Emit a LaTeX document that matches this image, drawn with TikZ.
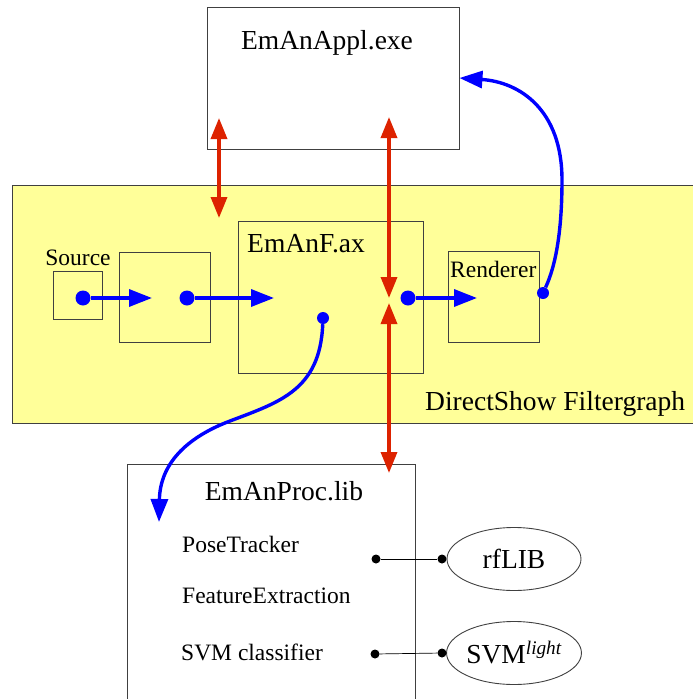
\documentclass[tikz,border=0pt]{standalone}
\usepackage{fontspec}
\setmainfont{Liberation Serif}
\usetikzlibrary{positioning, arrows.meta, shapes.geometric, calc}
\definecolor{paneyellow}{HTML}{FFFF99}
\definecolor{edge}{HTML}{404040}
\definecolor{ctrl}{HTML}{DD2200}
\definecolor{media}{HTML}{0000FF}
\newcommand{\bigtxt}{\fontsize{27.5}{30}\selectfont}
\newcommand{\smalltxt}{\fontsize{23.5}{26}\selectfont}
\tikzset{
  box/.style={draw=edge, line width=0.9pt, inner sep=0pt},
  graphbox/.style={box, fill=paneyellow},
  lib/.style={draw=edge, line width=0.9pt, ellipse, inner sep=0pt,
              minimum width=134pt, minimum height=63pt, font=\bigtxt},
  title/.style={inner sep=0pt, font=\bigtxt},
  item/.style={inner sep=0pt, font=\smalltxt},
  pin/.style={circle, fill=media, inner sep=0pt, minimum size=15pt},
  dot/.style={circle, fill=black, inner sep=0pt, minimum size=9pt},
  flow/.style={-{Triangle[length=23pt, width=17pt]}, line width=3.4pt, media},
  call/.style={{Triangle[length=21pt, width=16pt]}-{Triangle[length=21pt, width=16pt]},
               line width=3.4pt, ctrl},
  wire/.style={line width=0.7pt, black},
}

\begin{document}
\begin{tikzpicture}[x=1pt, y=-1pt]
  \clip (0,0) rectangle (693,699);

  % --- filter graph (yellow) ---
  \node[graphbox, minimum width=700, minimum height=238] (graph) at (362,304) {};
  \node[title, anchor=base west] (graphname) at (425,410) {DirectShow Filtergraph};

  % --- application ---
  \node[box, minimum width=252, minimum height=142] (appl) at (333,78) {};
  \node[title, anchor=base] (applname) at (327,49) {EmAnAppl.exe};

  % --- filters ---
  \node[box, minimum width=49, minimum height=48] (src) at (77.5,295) {};
  \node[item, anchor=base] (srcname) at (78,265) {Source};
  \node[box, minimum width=91, minimum height=90] (mid) at (164.5,297) {};
  \node[box, minimum width=185, minimum height=152] (emanf) at (330.5,297) {};
  \node[title, anchor=base west] (emanfname) at (247,252) {EmAnF.ax};
  \node[box, minimum width=91, minimum height=91] (rend) at (493.5,296.5) {};
  \node[item, anchor=base west] (rendname) at (450,277) {Renderer};

  % --- processing library ---
  \node[box, minimum width=288, minimum height=256] (proc) at (271,592) {};
  \node[title, anchor=base] (procname) at (284,500) {EmAnProc.lib};
  \node[item, anchor=base west] (pose) at (182,552) {PoseTracker};
  \node[item, anchor=base west] (feat) at (182,603) {FeatureExtraction};
  \node[item, anchor=base west] (cls) at (181,660) {SVM classifier};
  \node[lib] (rflib) at (514,559) {rfLIB};
  \node[lib] (svm) at (514,653) {SVM\textsuperscript{\itshape light}};

  % --- pins and free ends ---
  \node[pin] (p1) at (83,298) {};
  \node[pin] (p2) at (187,298) {};
  \node[pin] (p3) at (408,298) {};
  \node[pin, minimum size=12pt] (p4) at (323,318) {};
  \node[pin, minimum size=12pt] (p5) at (543,293) {};
  \coordinate (e1) at (152,298);
  \coordinate (e2) at (274,298);
  \coordinate (e3) at (477,298);
  \coordinate (e4) at (159,522);
  \coordinate (c1) at (219,118);
  \coordinate (c2) at (219,218);
  \coordinate (c3) at (389,117);
  \coordinate (c4) at (389,298);
  \coordinate (c5) at (389,303);
  \coordinate (c6) at (389,473);
  \node[dot] (k1) at (376,559) {};
  \node[dot] (k2) at (442,559) {};
  \node[dot] (k3) at (375,654) {};
  \node[dot] (k4) at (442,653) {};

  % --- media flow ---
  \draw[flow] (p1) -- (e1);
  \draw[flow] (p2) -- (e2);
  \draw[flow] (p3) -- (e3);
  \draw[flow] (p4) .. controls (320,390) and (280,402) .. (230,421)
                   .. controls (185,438) and (160,465) .. (e4);
  \draw[flow] (p5) .. controls (556,265) and (562,230) .. (562,180)
                   .. controls (562,110) and (520,82) .. (appl.east);

  % --- control calls ---
  \draw[call] (c1) -- (c2);
  \draw[call] (c3) -- (c4);
  \draw[call] (c5) -- (c6);

  % --- external libraries ---
  \draw[wire] (k1) -- (k2);
  \draw[wire] (k3) -- (k4);

\end{tikzpicture}
\end{document}
